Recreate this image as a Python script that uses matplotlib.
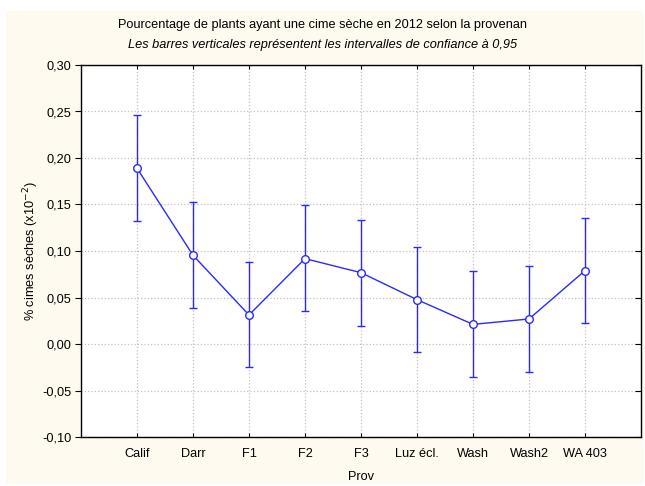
import numpy as np
import matplotlib
matplotlib.use('Agg')
import matplotlib.pyplot as plt
from matplotlib.patches import Rectangle
from matplotlib.ticker import FuncFormatter, MultipleLocator


provs = ['Calif', 'Darr', 'F1', 'F2', 'F3', 'Luz écl.', 'Wash', 'Wash2',
         'WA 403']
means = [0.189, 0.0954, 0.0312, 0.0918, 0.0767, 0.0477, 0.0211, 0.0269,
         0.0789]
upper = [0.246, 0.1523, 0.0885, 0.1491, 0.1330, 0.1047, 0.0781, 0.0839,
         0.1358]
lower = [0.1326, 0.0384, -0.0251, 0.0355, 0.0194, -0.0090, -0.0358,
         -0.0298, 0.0222]

plt.rcParams['font.family'] = ['Liberation Sans', 'DejaVu Sans']
FS = 9.2

fig = plt.figure(figsize=(6.45, 4.86), dpi=100)
fig.patch.set_facecolor('white')
# cream panel behind the plot
fig.patches.append(Rectangle((6 / 645, 2 / 486), 638 / 645, 473 / 486,
                             transform=fig.transFigure, facecolor='#fffaf0',
                             edgecolor='none', zorder=-1))

ax = fig.add_axes([81 / 645, 49 / 486, 560 / 645, 372 / 486])
ax.set_facecolor('white')

xpos = np.arange(1, len(provs) + 1)
means = np.array(means)
yerr = [means - np.array(lower), np.array(upper) - means]

ax.errorbar(xpos, means, yerr=yerr, color='#2a2aff', lw=1, elinewidth=1,
            capsize=3, capthick=1, marker='o', markersize=5.5,
            markerfacecolor='white', markeredgecolor='#2a2aff',
            markeredgewidth=1, zorder=3)

ax.set_xlim(0, 10)
ax.set_ylim(-0.10, 0.30)
ax.set_xticks(xpos)
ax.set_xticklabels(provs)
ax.yaxis.set_major_locator(MultipleLocator(0.05))
ax.yaxis.set_major_formatter(
    FuncFormatter(lambda v, p: '{:.2f}'.format(v).replace('.', ',')))

ax.grid(True, color='#c0c0c0', ls=':', lw=0.9)
ax.set_axisbelow(True)
for sp in ax.spines.values():
    sp.set_linewidth(1.0)
    sp.set_color('black')

ax.tick_params(axis='y', which='both', direction='out', length=4,
               labelsize=FS, pad=3, right=True)
# right side ticks point inward
for tk in ax.yaxis.get_major_ticks():
    tk.tick2line.set_marker(matplotlib.lines.TICKLEFT)
    tk.tick2line.set_markersize(4)
ax.tick_params(axis='x', direction='in', length=3, labelsize=FS,
               top=True, pad=8)

ax.set_xlabel('Prov', fontsize=FS, labelpad=8)
ax.set_ylabel('% cimes sèches (x10$^{-2}$)', fontsize=FS, labelpad=1)

fig.text(0.5, 1 - 25 / 486, 'Pourcentage de plants ayant une cime sèche '
         'en 2012 selon la provenan', ha='center', va='center', fontsize=FS)
fig.text(0.5, 1 - 45 / 486, 'Les barres verticales représentent les '
         'intervalles de confiance à 0,95', ha='center', va='center',
         fontsize=FS, style='italic')

fig.savefig('out.png', dpi=100, facecolor=fig.get_facecolor())
